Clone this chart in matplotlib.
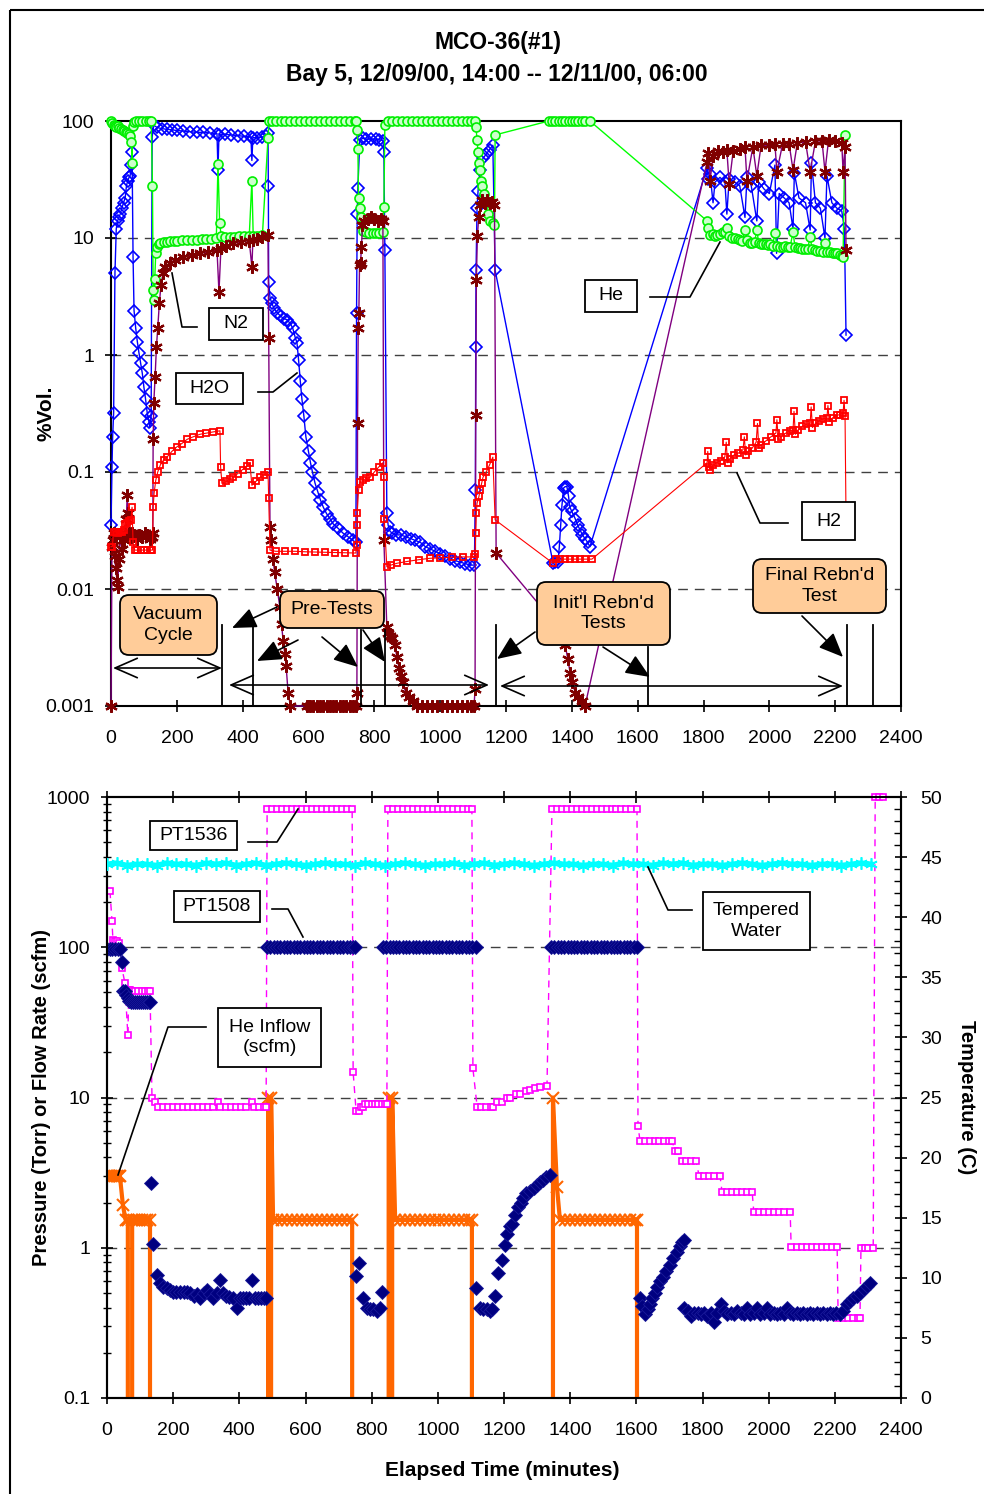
import matplotlib
matplotlib.use("Agg")
import matplotlib.pyplot as plt
from matplotlib.patches import Rectangle, FancyBboxPatch
from matplotlib.ticker import LogLocator, NullLocator, NullFormatter, MultipleLocator

plt.rcParams['font.family'] = ['Liberation Sans', 'DejaVu Sans']

# ---------------- top chart: gas composition, %Vol. vs elapsed minutes ----------------
he_pts = [(0, 100), (4, 97), (8, 93), (12, 90), (16, 88), (20, 90), (25, 87), (30, 86), (35, 84), (40, 82),
          (45, 80), (50, 79), (55, 78), (58, 75), (62, 66), (64, 44), (66, 90), (70, 98), (75, 100), (85, 100),
          (95, 100), (105, 100), (115, 100), (122, 100), (126, 28), (128, 3.6), (130, 2.95), (133, 4.5), (136, 7.5),
          (140, 8.3), (145, 8.8), (150, 9.0), (160, 9.2), (170, 9.3), (180, 9.4), (190, 9.4), (200, 9.5), (215, 9.6),
          (230, 9.6), (245, 9.7), (260, 9.7), (275, 9.8), (290, 9.8), (305, 9.9), (320, 10), (325, 43), (330, 13.5),
          (335, 10.3), (345, 10.1), (360, 10.2), (375, 10.2), (390, 10.3), (405, 10.3), (420, 10.4), (428, 31),
          (432, 10.5), (445, 10.5), (460, 10.6), (477, 71), (480, 100), (490, 100), (500, 100), (515, 100),
          (530, 100), (545, 100), (560, 100), (575, 100), (590, 100), (605, 100), (620, 100), (635, 100), (650, 100),
          (665, 100), (680, 100), (695, 100), (710, 100), (725, 100), (740, 100), (745, 100), (748, 84), (750, 58),
          (752, 22), (755, 18), (760, 15), (765, 11.5), (775, 11.2), (785, 11), (795, 11), (805, 11), (815, 11),
          (826, 11.2), (829, 18.5), (832, 92), (840, 100), (855, 100), (870, 100), (885, 100), (900, 100), (915, 100),
          (930, 100), (945, 100), (960, 100), (975, 100), (990, 100), (1005, 100), (1020, 100), (1035, 100),
          (1050, 100), (1065, 100), (1080, 100), (1095, 100), (1106, 100), (1109, 88), (1112, 69), (1115, 54),
          (1118, 44), (1121, 38), (1124, 31), (1128, 28), (1132, 24), (1138, 20), (1145, 16), (1152, 14),
          (1160, 13.5), (1165, 13), (1167, 76), (1330, 100), (1340, 100), (1350, 100), (1360, 100), (1370, 100),
          (1380, 100), (1390, 100), (1400, 100), (1410, 100), (1420, 100), (1430, 100), (1440, 100), (1455, 100),
          (1811, 14), (1815, 12.2), (1820, 10.6), (1828, 10.8), (1835, 10.4), (1842, 10.6), (1850, 10.8),
          (1858, 11.2), (1865, 11.2), (1871, 12.2), (1878, 10.5), (1886, 10), (1896, 10), (1904, 9.8), (1911, 9.6),
          (1918, 9.5), (1926, 11.7), (1933, 9.6), (1941, 9.0), (1948, 9.0), (1955, 9.2), (1962, 11.7), (1968, 9.0),
          (1975, 8.8), (1982, 8.9), (1990, 8.8), (1996, 8.7), (2002, 8.8), (2010, 8.6), (2017, 11.0), (2024, 8.6),
          (2032, 8.4), (2040, 8.4), (2048, 8.5), (2056, 8.3), (2063, 8.4), (2072, 11.2), (2078, 8.4), (2086, 8.2),
          (2093, 8.2), (2100, 8.0), (2108, 8.1), (2116, 8.0), (2124, 10.2), (2130, 8.0), (2139, 7.9), (2146, 7.8),
          (2154, 7.8), (2162, 7.6), (2169, 9.0), (2175, 7.6), (2184, 7.6), (2192, 7.5), (2200, 7.4), (2206, 7.4),
          (2214, 7.2), (2220, 7.0), (2224, 6.9), (2230, 76)]

h2o_pts = [(0, 0.035), (3, 0.11), (5, 0.2), (8, 0.32), (12, 5), (16, 12), (20, 14), (24, 15), (28, 16), (33, 18),
           (38, 20), (43, 22), (47, 28), (51, 31), (55, 33), (58, 34), (62, 42), (64, 54), (67, 6.9), (70, 2.4),
           (75, 1.7), (80, 1.3), (85, 1.04), (90, 0.85), (95, 0.7), (100, 0.53), (105, 0.42), (110, 0.32),
           (115, 0.27), (118, 0.24), (122, 0.3), (125, 73), (130, 92), (140, 88), (155, 86), (170, 85), (185, 84),
           (200, 83), (220, 82), (240, 81), (260, 80), (280, 80), (300, 79), (322, 78), (325, 38), (328, 76),
           (345, 77), (365, 76), (385, 75), (405, 74), (425, 73), (428, 46), (431, 72), (445, 72), (460, 73),
           (470, 74), (477, 79), (478, 28), (479, 4.2), (483, 3.1), (488, 2.8), (495, 2.5), (505, 2.3), (515, 2.15),
           (525, 2.05), (535, 2.0), (545, 1.85), (552, 1.7), (560, 1.4), (565, 1.27), (570, 0.9), (575, 0.6),
           (580, 0.42), (586, 0.3), (592, 0.2), (600, 0.15), (606, 0.12), (612, 0.1), (620, 0.08), (628, 0.068),
           (636, 0.058), (645, 0.05), (655, 0.044), (665, 0.04), (675, 0.036), (690, 0.033), (705, 0.030),
           (720, 0.028), (735, 0.026), (744, 0.025), (746, 2.3), (748, 16), (750, 27), (756, 69), (765, 71),
           (775, 70), (790, 70), (805, 70), (815, 69), (826, 68), (829, 54), (832, 7.9), (838, 0.045), (842, 0.035),
           (848, 0.031), (855, 0.030), (865, 0.029), (880, 0.029), (895, 0.028), (910, 0.027), (925, 0.026),
           (940, 0.025), (955, 0.023), (970, 0.022), (985, 0.021), (1000, 0.020), (1015, 0.019), (1030, 0.018),
           (1045, 0.0175), (1060, 0.017), (1075, 0.0165), (1091, 0.016), (1104, 0.016), (1107, 0.07), (1108, 1.17),
           (1109, 5.3), (1112, 18), (1115, 25), (1121, 38), (1130, 48), (1140, 52), (1150, 57), (1160, 62),
           (1167, 5.3), (1343, 0.0166), (1350, 0.017), (1358, 0.017), (1362, 0.023), (1366, 0.035), (1370, 0.052),
           (1375, 0.073), (1380, 0.075), (1385, 0.075), (1390, 0.062), (1394, 0.05), (1400, 0.046), (1410, 0.04),
           (1418, 0.035), (1425, 0.032), (1432, 0.029), (1440, 0.027), (1448, 0.025), (1455, 0.023),
           (1811, 40), (1815, 32), (1820, 35), (1829, 20), (1835, 30), (1850, 33), (1865, 30), (1871, 16),
           (1878, 32), (1895, 30), (1910, 28), (1926, 15), (1932, 33), (1945, 28), (1962, 14), (1968, 30),
           (1985, 26), (2000, 24), (2017, 42), (2022, 7.4), (2030, 24), (2045, 22), (2060, 20), (2072, 12),
           (2076, 36), (2090, 22), (2110, 20), (2124, 11.7), (2128, 44), (2140, 20), (2155, 18), (2169, 10),
           (2175, 34), (2190, 20), (2205, 18), (2220, 17), (2228, 12), (2233, 1.48)]

n2_pts = [(0, 0.001), (3, 0.023), (5, 0.026), (8, 0.03), (11, 0.019), (14, 0.015), (18, 0.012), (20, 0.0103),
          (24, 0.018), (28, 0.028), (33, 0.022), (38, 0.026), (43, 0.03), (47, 0.04), (49, 0.064), (52, 0.045),
          (56, 0.03), (60, 0.028), (64, 0.03), (70, 0.029), (78, 0.027), (86, 0.029), (94, 0.028), (102, 0.03),
          (110, 0.029), (118, 0.027), (124, 0.028), (127, 0.03), (128, 0.19), (130, 0.39), (134, 0.65),
          (138, 1.17), (142, 1.7), (147, 2.8), (152, 4), (158, 5), (165, 5.6), (179, 6.1), (195, 6.5), (219, 6.9),
          (245, 7.2), (270, 7.4), (295, 7.6), (322, 7.9), (328, 3.45), (334, 8.2), (350, 8.6), (371, 9),
          (395, 9.3), (420, 9.5), (428, 5.6), (431, 9.6), (445, 9.9), (460, 10.2), (477, 10.6), (479, 1.4),
          (483, 0.034), (487, 0.026), (492, 0.018), (497, 0.014), (505, 0.01), (513, 0.007), (518, 0.005),
          (523, 0.0036), (528, 0.0028), (532, 0.0022), (538, 0.0013), (545, 0.001), (595, 0.001), (605, 0.001),
          (615, 0.001), (625, 0.001), (635, 0.001), (645, 0.001), (655, 0.001), (665, 0.001), (675, 0.001),
          (685, 0.001), (695, 0.001), (705, 0.001), (715, 0.001), (725, 0.001), (735, 0.001), (745, 0.001),
          (747, 0.0013), (749, 0.26), (751, 1.7), (753, 2.3), (755, 5.9), (758, 6.1), (761, 8.4), (764, 13),
          (770, 14), (780, 14.5), (790, 15), (800, 14.5), (810, 14), (820, 14.5), (826, 14), (829, 0.026),
          (838, 0.0047), (842, 0.0042), (848, 0.004), (855, 0.0038), (862, 0.0033), (869, 0.0026), (875, 0.0021),
          (881, 0.0018), (887, 0.0016), (895, 0.0013), (905, 0.0012), (917, 0.0011), (930, 0.001), (945, 0.001),
          (960, 0.001), (975, 0.001), (990, 0.001), (1005, 0.001), (1020, 0.001), (1035, 0.001), (1050, 0.001),
          (1065, 0.001), (1080, 0.001), (1095, 0.001), (1103, 0.001), (1106, 0.0014), (1108, 0.31), (1110, 4.4),
          (1113, 10.3), (1117, 15), (1122, 19), (1128, 21), (1135, 20), (1142, 21), (1150, 20), (1158, 20.5),
          (1165, 19), (1170, 0.0203), (1373, 0.0042), (1380, 0.0033), (1388, 0.0025), (1395, 0.0019),
          (1402, 0.0016), (1410, 0.0013), (1420, 0.0012), (1430, 0.0011), (1440, 0.001),
          (1811, 45), (1815, 53), (1820, 31), (1829, 50), (1845, 55), (1858, 54), (1871, 56), (1878, 29),
          (1890, 55), (1910, 58), (1926, 60), (1932, 31), (1950, 60), (1962, 34), (1975, 62), (2000, 62),
          (2017, 63), (2023, 37), (2040, 63), (2060, 64), (2072, 38), (2085, 65), (2110, 66), (2124, 37),
          (2140, 67), (2160, 68), (2169, 37), (2180, 69), (2200, 67), (2220, 65), (2224, 37), (2230, 60),
          (2233, 7.9)]

h2_pts = [(0, 0.023), (4, 0.023), (8, 0.031), (14, 0.031), (20, 0.030), (26, 0.031), (32, 0.031), (38, 0.032),
          (44, 0.036), (49, 0.037), (55, 0.038), (60, 0.039), (64, 0.05), (67, 0.025), (72, 0.0215), (80, 0.0215),
          (90, 0.0215), (100, 0.0215), (110, 0.0215), (120, 0.0215), (126, 0.0215), (128, 0.05), (131, 0.066),
          (136, 0.085), (142, 0.1), (150, 0.115), (160, 0.127), (170, 0.134), (185, 0.15), (200, 0.164),
          (215, 0.175), (231, 0.19), (250, 0.2), (270, 0.21), (290, 0.215), (310, 0.22), (331, 0.225),
          (333, 0.11), (337, 0.08), (350, 0.083), (360, 0.087), (371, 0.09), (385, 0.097), (400, 0.105),
          (412, 0.112), (422, 0.119), (428, 0.077), (440, 0.083), (453, 0.09), (465, 0.095), (477, 0.1),
          (479, 0.06), (483, 0.0215), (500, 0.021), (530, 0.021), (560, 0.021), (590, 0.0208), (620, 0.0207),
          (650, 0.0206), (680, 0.0205), (710, 0.0204), (744, 0.0203), (746, 0.024), (747, 0.035), (748, 0.045),
          (752, 0.07), (756, 0.082), (765, 0.085), (775, 0.088), (787, 0.09), (800, 0.1), (813, 0.11),
          (826, 0.12), (829, 0.09), (830, 0.04), (838, 0.0155), (850, 0.016), (869, 0.0166), (900, 0.0172),
          (935, 0.0178), (969, 0.0183), (1000, 0.0185), (1035, 0.0187), (1070, 0.0188), (1104, 0.0188),
          (1106, 0.02), (1108, 0.03), (1110, 0.045), (1112, 0.054), (1118, 0.062), (1121, 0.07), (1126, 0.08),
          (1130, 0.09), (1140, 0.1), (1150, 0.115), (1160, 0.134), (1167, 0.039), (1343, 0.0166), (1352, 0.018),
          (1365, 0.018), (1380, 0.018), (1395, 0.018), (1410, 0.018), (1425, 0.018), (1440, 0.018),
          (1461, 0.018), (1811, 0.12), (1813, 0.15), (1816, 0.11), (1820, 0.105), (1830, 0.115), (1840, 0.12),
          (1852, 0.125), (1865, 0.135), (1869, 0.18), (1873, 0.12), (1880, 0.13), (1893, 0.14), (1906, 0.145),
          (1920, 0.155), (1924, 0.2), (1928, 0.14), (1935, 0.15), (1948, 0.16), (1960, 0.18), (1964, 0.26),
          (1968, 0.16), (1975, 0.17), (1990, 0.185), (2005, 0.2), (2020, 0.215), (2023, 0.28), (2027, 0.19),
          (2035, 0.2), (2050, 0.215), (2062, 0.225), (2072, 0.23), (2075, 0.33), (2079, 0.21), (2088, 0.23),
          (2100, 0.245), (2112, 0.255), (2124, 0.26), (2127, 0.36), (2131, 0.24), (2140, 0.26), (2152, 0.275),
          (2164, 0.285), (2175, 0.29), (2178, 0.37), (2182, 0.27), (2192, 0.29), (2205, 0.305), (2215, 0.31),
          (2224, 0.32), (2227, 0.41), (2230, 0.3), (2233, 0.04)]

# ---------------- bottom chart: pressure / flow (left, log) and temperature (right) ----------------
pt1536_pts = [(9, 236), (15, 150), (18, 111), (24, 110), (30, 110), (36, 106), (45, 73), (54, 58), (63, 26),
              (66, 52), (70, 52), (76, 51), (85, 51), (95, 51), (105, 51), (115, 51), (125, 51), (130, 51),
              (136, 10), (145, 9.3), (154, 8.6), (170, 8.6), (185, 8.6), (200, 8.6), (215, 8.6), (230, 8.6),
              (245, 8.6), (260, 8.6), (275, 8.6), (290, 8.6), (305, 8.6), (320, 8.6), (336, 9.3), (342, 8.6),
              (360, 8.6), (375, 8.6), (390, 8.6), (405, 8.6), (420, 8.6), (438, 9.3), (445, 8.6), (460, 8.6),
              (475, 8.6), (481, 8.6), (484, 830), (500, 830), (515, 830), (530, 830), (545, 830), (560, 830),
              (575, 830), (590, 830), (605, 830), (620, 830), (635, 830), (650, 830), (665, 830), (680, 830),
              (695, 830), (710, 830), (725, 830), (741, 830), (744, 14.7), (753, 8.1), (762, 8.1), (768, 8.7),
              (774, 8.7), (780, 9.0), (790, 9.0), (800, 9.0), (810, 9.0), (820, 9.0), (830, 9.0), (840, 9.0),
              (846, 9.0), (849, 830), (865, 830), (880, 830), (895, 830), (910, 830), (925, 830), (940, 830),
              (955, 830), (970, 830), (985, 830), (1000, 830), (1015, 830), (1030, 830), (1045, 830), (1060, 830),
              (1075, 830), (1090, 830), (1103, 830), (1106, 15.6), (1119, 8.6), (1130, 8.6), (1145, 8.6),
              (1160, 8.6), (1167, 8.6), (1179, 9.3), (1195, 9.3), (1210, 10), (1218, 10), (1235, 10.5),
              (1248, 10.5), (1265, 11), (1280, 11.3), (1295, 11.5), (1310, 11.8), (1330, 12), (1345, 830),
              (1360, 830), (1375, 830), (1390, 830), (1405, 830), (1420, 830), (1435, 830), (1450, 830),
              (1465, 830), (1480, 830), (1495, 830), (1510, 830), (1525, 830), (1540, 830), (1555, 830),
              (1570, 830), (1585, 830), (1602, 830), (1605, 6.5), (1611, 5.17), (1625, 5.17), (1640, 5.17),
              (1655, 5.17), (1670, 5.17), (1685, 5.17), (1700, 5.17), (1708, 5.17), (1717, 4.4), (1726, 4.4),
              (1738, 3.8), (1750, 3.8), (1765, 3.8), (1780, 3.8), (1790, 3.0), (1805, 3.0), (1820, 3.0),
              (1835, 3.0), (1853, 3.0), (1859, 2.36), (1875, 2.36), (1890, 2.36), (1905, 2.36), (1920, 2.36),
              (1935, 2.36), (1950, 2.36), (1955, 1.74), (1970, 1.74), (1985, 1.74), (2000, 1.74), (2015, 1.74),
              (2030, 1.74), (2045, 1.74), (2065, 1.74), (2068, 1.01), (2085, 1.01), (2100, 1.01), (2115, 1.01),
              (2130, 1.01), (2145, 1.01), (2160, 1.01), (2175, 1.01), (2190, 1.01), (2207, 1.01), (2210, 0.34),
              (2225, 0.34), (2240, 0.34), (2255, 0.34), (2270, 0.34), (2276, 0.34), (2279, 1.0), (2290, 1.0),
              (2300, 1.0), (2316, 1.0), (2322, 1000), (2334, 1000), (2346, 1000)]

pt1508_pts = [(0, 98), (8, 98), (16, 98), (24, 98), (32, 98), (39, 98), (45, 80), (48, 51), (53, 51), (57, 48),
              (62, 46), (67, 44), (72, 43), (78, 43), (84, 43), (90, 43), (96, 43), (102, 43), (108, 43),
              (114, 43), (120, 43), (126, 43), (130, 43), (133, 2.7), (139, 1.06), (151, 0.66), (160, 0.58),
              (170, 0.55), (181, 0.54), (190, 0.52), (200, 0.51), (210, 0.51), (220, 0.51), (232, 0.51),
              (242, 0.51), (251, 0.50), (262, 0.48), (272, 0.49), (281, 0.46), (292, 0.50), (302, 0.52),
              (311, 0.49), (320, 0.46), (331, 0.50), (342, 0.61), (351, 0.50), (360, 0.48), (370, 0.47),
              (382, 0.46), (393, 0.40), (402, 0.46), (412, 0.46), (420, 0.46), (430, 0.46), (438, 0.61),
              (447, 0.46), (456, 0.46), (465, 0.46), (474, 0.46), (481, 0.46),
              (484, 100), (494, 100), (504, 100), (514, 100), (524, 100), (534, 100), (544, 100), (554, 100),
              (564, 100), (574, 100), (584, 100), (594, 100), (604, 100), (614, 100), (624, 100), (634, 100),
              (644, 100), (654, 100), (664, 100), (674, 100), (684, 100), (694, 100), (704, 100), (714, 100),
              (724, 100), (734, 100), (744, 100), (750, 100),
              (753, 0.65), (762, 0.79), (774, 0.46), (786, 0.40), (795, 0.39), (804, 0.39), (815, 0.38),
              (825, 0.40), (831, 0.51),
              (834, 100), (844, 100), (854, 100), (864, 100), (874, 100), (884, 100), (894, 100), (904, 100),
              (914, 100), (924, 100), (934, 100), (944, 100), (954, 100), (964, 100), (974, 100), (984, 100),
              (994, 100), (1004, 100), (1014, 100), (1024, 100), (1034, 100), (1044, 100), (1054, 100),
              (1064, 100), (1074, 100), (1084, 100), (1094, 100), (1104, 100), (1114, 100),
              (1116, 0.54), (1128, 0.40), (1138, 0.39), (1149, 0.39), (1157, 0.38), (1164, 0.39), (1173, 0.48),
              (1182, 0.68), (1194, 0.83), (1203, 1.05), (1209, 1.24), (1218, 1.4), (1224, 1.45), (1233, 1.66),
              (1242, 1.88), (1250, 2.0), (1258, 2.15), (1268, 2.3), (1279, 2.4), (1290, 2.5), (1300, 2.6),
              (1310, 2.75), (1318, 2.84), (1328, 2.95), (1339, 3.07),
              (1342, 100), (1352, 100), (1362, 100), (1372, 100), (1382, 100), (1392, 100), (1402, 100),
              (1412, 100), (1422, 100), (1432, 100), (1442, 100), (1452, 100), (1462, 100), (1472, 100),
              (1482, 100), (1492, 100), (1502, 100), (1512, 100), (1522, 100), (1532, 100), (1542, 100),
              (1552, 100), (1562, 100), (1572, 100), (1582, 100), (1592, 100), (1602, 100),
              (1611, 0.46), (1618, 0.41), (1626, 0.36), (1635, 0.39), (1641, 0.42), (1647, 0.46), (1655, 0.5),
              (1663, 0.55), (1672, 0.6), (1681, 0.64), (1690, 0.7), (1702, 0.77), (1712, 0.85), (1723, 0.94),
              (1731, 1.02), (1738, 1.1), (1744, 1.13),
              (1745, 0.40), (1755, 0.38), (1765, 0.35), (1775, 0.37), (1785, 0.37), (1795, 0.36), (1805, 0.37),
              (1815, 0.35), (1825, 0.37), (1835, 0.32), (1845, 0.37), (1855, 0.42), (1865, 0.38), (1875, 0.36),
              (1885, 0.37), (1895, 0.36), (1905, 0.38), (1915, 0.37), (1925, 0.36), (1935, 0.40), (1945, 0.36),
              (1955, 0.37), (1965, 0.40), (1975, 0.36), (1985, 0.37), (1995, 0.40), (2005, 0.36), (2015, 0.37),
              (2025, 0.36), (2035, 0.37), (2045, 0.36), (2055, 0.40), (2065, 0.37), (2075, 0.36), (2085, 0.37),
              (2095, 0.36), (2105, 0.37), (2115, 0.36), (2125, 0.37), (2135, 0.36), (2145, 0.37), (2155, 0.36),
              (2165, 0.37), (2175, 0.36), (2185, 0.37), (2195, 0.36), (2205, 0.37), (2215, 0.36), (2225, 0.38),
              (2237, 0.42), (2246, 0.44), (2255, 0.46), (2266, 0.48), (2276, 0.5), (2288, 0.53), (2298, 0.56),
              (2307, 0.58)]

# He inflow (scfm); 0 = no flow, drawn off the bottom of the log axis
inflow_pts = [(0, 3), (6, 3), (12, 3), (18, 3), (24, 3), (30, 3), (36, 3), (39, 3), (48, 1.93), (56, 1.54),
              (63, 1.54), (67, 0), (72, 0), (76, 1.54), (82, 1.54), (90, 1.54), (98, 1.54), (106, 1.54),
              (114, 1.54), (122, 1.54), (130, 1.54), (133, 0), (481, 0), (487, 10), (493, 0), (496, 10),
              (502, 1.54), (515, 1.54), (530, 1.54), (545, 1.54), (560, 1.54), (575, 1.54), (590, 1.54),
              (605, 1.54), (620, 1.54), (635, 1.54), (650, 1.54), (665, 1.54), (680, 1.54), (695, 1.54),
              (710, 1.54), (725, 1.54), (741, 1.54), (744, 0), (846, 0), (852, 10), (858, 0), (862, 10),
              (871, 1.54), (885, 1.54), (900, 1.54), (915, 1.54), (930, 1.54), (945, 1.54), (960, 1.54),
              (975, 1.54), (990, 1.54), (1005, 1.54), (1020, 1.54), (1035, 1.54), (1050, 1.54), (1065, 1.54),
              (1080, 1.54), (1095, 1.54), (1103, 1.54), (1106, 0), (1342, 0), (1348, 10), (1360, 2.55),
              (1369, 1.54), (1385, 1.54), (1400, 1.54), (1415, 1.54), (1430, 1.54), (1445, 1.54), (1460, 1.54),
              (1475, 1.54), (1490, 1.54), (1505, 1.54), (1520, 1.54), (1535, 1.54), (1550, 1.54), (1565, 1.54),
              (1580, 1.54), (1595, 1.54), (1602, 1.54), (1605, 0), (2400, 0)]

water_t = [0, 30, 60, 90, 120, 150, 180, 210, 240, 270, 300, 330, 360, 390, 420, 450, 480, 510, 540, 570,
           600, 630, 660, 690, 720, 750, 780, 810, 840, 870, 900, 930, 960, 990, 1020, 1050, 1080, 1110, 1140,
           1170, 1200, 1230, 1260, 1290, 1320, 1350, 1380, 1410, 1440, 1470, 1500, 1530, 1560, 1590, 1620,
           1650, 1680, 1710, 1740, 1770, 1800, 1830, 1860, 1890, 1920, 1950, 1980, 2010, 2040, 2070, 2100,
           2130, 2160, 2190, 2220, 2250, 2280, 2310]
water_c = [44.4, 44.5, 44.3, 44.4, 44.4, 44.3, 44.5, 44.4, 44.4, 44.3, 44.5, 44.4, 44.5, 44.3, 44.4, 44.5,
           44.3, 44.4, 44.5, 44.4, 44.3, 44.4, 44.5, 44.4, 44.4, 44.3, 44.5, 44.4, 44.3, 44.4, 44.5, 44.4,
           44.3, 44.4, 44.4, 44.5, 44.3, 44.4, 44.5, 44.3, 44.4, 44.5, 44.4, 44.3, 44.4, 44.5, 44.4, 44.4,
           44.3, 44.4, 44.4, 44.3, 44.5, 44.4, 44.4, 44.3, 44.5, 44.4, 44.5, 44.3, 44.4, 44.4, 44.3, 44.4,
           44.5, 44.4, 44.3, 44.4, 44.5, 44.4, 44.4, 44.3, 44.4, 44.4, 44.3, 44.4, 44.5, 44.4]

x_ticks = [0, 200, 400, 600, 800, 1000, 1200, 1400, 1600, 1800, 2000, 2200, 2400]
top_y_ticks = [0.001, 0.01, 0.1, 1, 10, 100]
top_y_labels = ['0.001', '0.01', '0.1', '1', '10', '100']
bot_y_ticks = [0.1, 1, 10, 100, 1000]
bot_y_labels = ['0.1', '1', '10', '100', '1000']


def unzip(pts):
    return [p[0] for p in pts], [p[1] for p in pts]


W, H = 984, 1494
fig = plt.figure(figsize=(W / 100, H / 100), dpi=100)


def rect(x0, y0, x1, y1):
    # pixel box in the reference picture -> figure fractions
    return [x0 / W, 1 - y1 / H, (x1 - x0) / W, (y1 - y0) / H]


def style_axes(ax):
    for s in ax.spines.values():
        s.set_linewidth(1.5)
    ax.tick_params(direction='inout', length=8, width=1.2, labelsize=14)


grid_kw = dict(color='#404040', lw=1, ls=(0, (7, 5)), zorder=1)

# ---- top axes ----
ax1 = fig.add_axes(rect(111, 121, 901, 706))
ax1.set_yscale('log')
ax1.set_xlim(0, 2400)
ax1.set_ylim(0.001, 100)
ax1.set_xticks(x_ticks)
ax1.set_yticks(top_y_ticks)
ax1.set_yticklabels(top_y_labels)
ax1.yaxis.set_minor_locator(NullLocator())
style_axes(ax1)
ax1.tick_params(axis='x', pad=13)
ax1.tick_params(axis='y', pad=8)
for g in (10, 1, 0.1, 0.01):
    ax1.axhline(g, **grid_kw)

t, v = unzip(h2o_pts)
ax1.plot(t, v, color='#0000FF', lw=1, marker='D', ms=6, mfc='none', mec='#0000FF', mew=1.2,
         clip_on=False, zorder=3)
t, v = unzip(he_pts)
ax1.plot(t, v, color='#00FF00', lw=1, marker='o', ms=6.5, mfc='#CCFFCC', mec='#00EE00', mew=1.2,
         clip_on=False, zorder=4)
t, v = unzip(n2_pts)
ax1.plot(t, v, color='#800080', lw=1, marker=(6, 2, 0), ms=9, mec='#800000', mew=1.6,
         clip_on=False, zorder=5)
t, v = unzip(h2_pts)
ax1.plot(t, v, color='#FF0000', lw=0.8, marker='s', ms=4.5, mfc='none', mec='#FF0000', mew=1.3,
         clip_on=False, zorder=6)
ax1.set_ylabel('%Vol.', fontsize=15, fontweight='bold')
ax1.yaxis.set_label_coords(-0.070, 0.5)

# ---- bottom axes ----
ax2 = fig.add_axes(rect(107, 797, 901, 1398))
ax2.set_yscale('log')
ax2.set_xlim(0, 2400)
ax2.set_ylim(0.1, 1000)
ax2.set_xticks(x_ticks)
ax2.set_yticks(bot_y_ticks)
ax2.set_yticklabels(bot_y_labels)
ax2.yaxis.set_minor_locator(LogLocator(base=10, subs=(2, 3, 4, 5, 6, 7, 8, 9)))
ax2.yaxis.set_minor_formatter(NullFormatter())
style_axes(ax2)
ax2.tick_params(axis='x', top=True, pad=13)
ax2.tick_params(axis='y', pad=8)
ax2.tick_params(axis='y', which='minor', direction='inout', length=6, width=1)
for g in (100, 10, 1):
    ax2.axhline(g, **grid_kw)

t, v = unzip(inflow_pts)
ax2.plot(t, v, color='#FF6600', lw=3, marker='x', ms=8, mew=1.5, zorder=3)
t, v = unzip(pt1536_pts)
ax2.plot(t, v, color='#FF00FF', lw=1, ls=(0, (5, 4)), marker='s', ms=4.5, mfc='white', mec='#FF00FF',
         mew=1.2, clip_on=False, zorder=4)
t, v = unzip(pt1508_pts)
ax2.plot(t, v, ls='none', marker='D', ms=7, color='#000080', mec='#1A1A9A', mew=0.6, zorder=5)
ax2.set_ylabel('Pressure (Torr) or Flow Rate (scfm)', fontsize=14.5, fontweight='bold')
ax2.yaxis.set_label_coords(-0.071, 0.5)
ax2.set_xlabel('Elapsed Time (minutes)', fontsize=15, fontweight='bold')
ax2.xaxis.set_label_coords(0.498, -0.105)

ax2r = ax2.twinx()
ax2r.set_ylim(0, 50)
ax2r.yaxis.set_major_locator(MultipleLocator(5))
ax2r.yaxis.set_minor_locator(MultipleLocator(1))
style_axes(ax2r)
ax2r.tick_params(axis='y', pad=10)
ax2r.tick_params(axis='y', which='minor', direction='in', length=5, width=1)
ax2r.plot(water_t, water_c, color='#00FFFF', lw=4, marker=(6, 2, 0), ms=9, mew=1.2, zorder=3)
ax2r.set_ylabel('Temperature (C)', fontsize=14.5, fontweight='bold', rotation=270)
ax2r.yaxis.set_label_coords(1.094, 0.5)

fig.text(498 / W, 1 - 42 / H, 'MCO-36(#1)', ha='center', va='center', fontsize=16.5, fontweight='bold')
fig.text(497 / W, 1 - 74 / H, 'Bay 5, 12/09/00, 14:00 -- 12/11/00, 06:00', ha='center', va='center',
         fontsize=16.5, fontweight='bold')

# ---- overlay in reference pixel coordinates for call-outs ----
ov = fig.add_axes([0, 0, 1, 1])
ov.set_xlim(0, W)
ov.set_ylim(H, 0)
ov.axis('off')

ov.add_patch(Rectangle((10, 10), W, H, fill=False, ec='black', lw=1.5, clip_on=False))


def white_box(x0, y0, x1, y1, text):
    ov.add_patch(Rectangle((x0, y0), x1 - x0, y1 - y0, fc='white', ec='black', lw=1.3, zorder=5))
    ov.text((x0 + x1) / 2, (y0 + y1) / 2, text, ha='center', va='center', fontsize=14,
            linespacing=1.3, zorder=6)


def tag_box(x0, y0, x1, y1, text):
    ov.add_patch(FancyBboxPatch((x0, y0), x1 - x0, y1 - y0, boxstyle='round,pad=0,rounding_size=9',
                                fc='#FFCC99', ec='black', lw=1.3, zorder=5))
    ov.text((x0 + x1) / 2, (y0 + y1) / 2, text, ha='center', va='center', fontsize=14,
            linespacing=1.3, zorder=6)


def leader(pts):
    ov.plot([p[0] for p in pts], [p[1] for p in pts], color='black', lw=1.2, zorder=4)


def arrow(start, tip):
    ov.annotate('', xy=tip, xytext=start,
                arrowprops=dict(arrowstyle='-|>,head_length=0.75,head_width=0.32', color='black', lw=1.2,
                                shrinkA=0, shrinkB=0, mutation_scale=20), zorder=6)


def span(x0, x1, y):
    ov.annotate('', xy=(x1, y), xytext=(x0, y),
                arrowprops=dict(arrowstyle='<->,head_length=0.8,head_width=0.35', color='black', lw=1.2,
                                shrinkA=0, shrinkB=0, mutation_scale=20), zorder=6)


# top chart call-outs
white_box(209, 308, 263, 340, 'N2')
leader([(197, 327), (182, 327), (172, 273)])
white_box(176, 373, 243, 404, 'H2O')
leader([(258, 392), (273, 392), (297, 373)])
white_box(585, 280, 637, 312, 'He')
leader([(650, 297), (690, 297), (720, 242)])
white_box(802, 502, 855, 540, 'H2')
leader([(788, 523), (760, 523), (737, 473)])

for x, y0 in [(222, 625), (253, 625), (361, 630), (385, 630), (496, 625), (648, 647), (847, 625), (873, 625)]:
    ov.plot([x, x], [y0, 706], color='black', lw=1.3, zorder=4)

span(113, 222, 668)
span(229, 489, 685)
span(500, 843, 686)

tag_box(120, 595, 217, 655, 'Vacuum\nCycle')
tag_box(280, 591, 384, 628, 'Pre-Tests')
tag_box(537, 582, 670, 645, "Init'l Rebn'd\nTests")
tag_box(753, 559, 886, 613, "Final Rebn'd\nTest")

arrow((277, 607), (232, 628))
arrow((298, 640), (257, 661))
arrow((322, 637), (358, 667))
arrow((363, 630), (385, 662))
arrow((535, 632), (497, 659))
arrow((603, 647), (650, 677))
arrow((802, 616), (843, 657))

# bottom chart call-outs
white_box(150, 821, 237, 850, 'PT1536')
leader([(248, 842), (277, 842), (298, 809)])
white_box(174, 891, 260, 922, 'PT1508')
leader([(272, 909), (288, 909), (303, 937)])
white_box(218, 1008, 321, 1067, 'He Inflow\n(scfm)')
leader([(206, 1027), (168, 1027), (118, 1175)])
white_box(703, 892, 810, 950, 'Tempered\nWater')
leader([(692, 910), (668, 910), (648, 867)])

fig.savefig('out.png', dpi=100)
